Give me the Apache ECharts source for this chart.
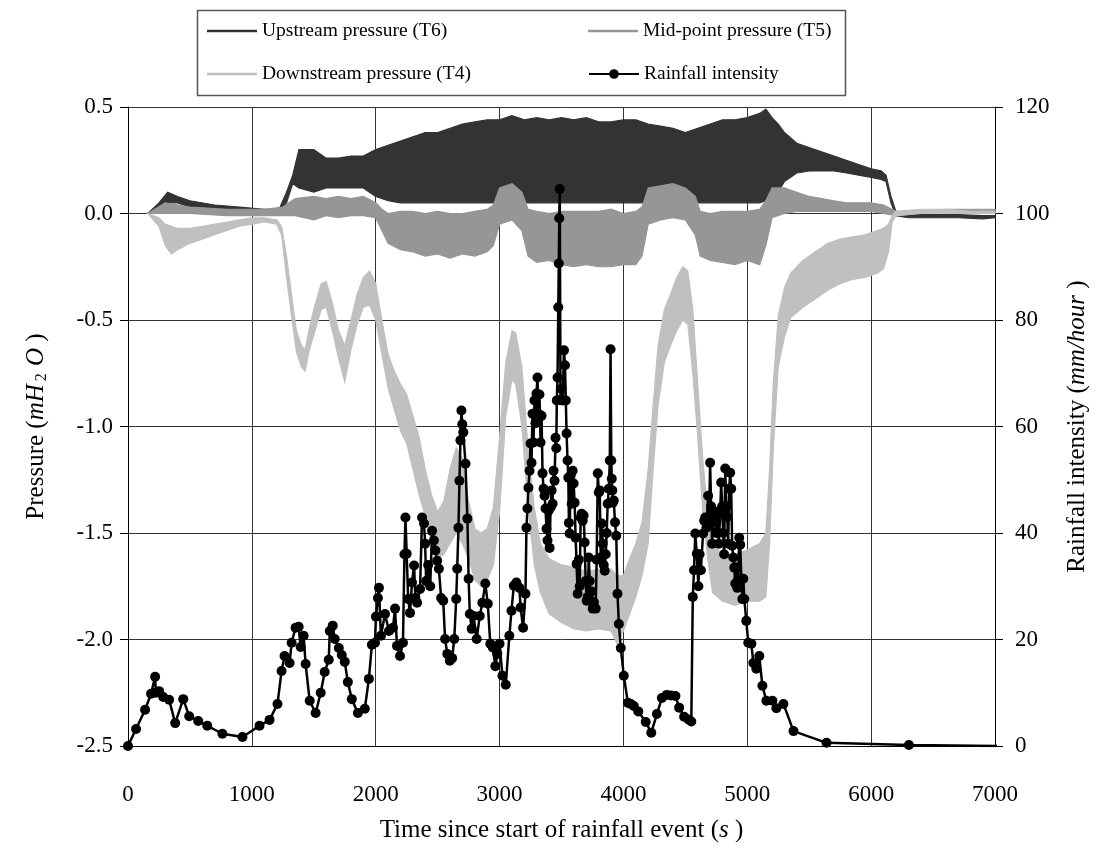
<!DOCTYPE html>
<html>
<head>
<meta charset="utf-8">
<script src="https://cdn.jsdelivr.net/npm/echarts@6/dist/echarts.min.js"></script>
<style>
html,body{margin:0;padding:0;background:#fff;}
#chart{width:1098px;height:849px;}
</style>
</head>
<body>
<div id="chart"></div>
<script>
// ---------- DATA ----------
// Upstream pressure (T6): envelope of the noisy signal (mH2O)
var t6Time  = [160, 250, 320, 400, 500, 700, 900, 1100, 1220, 1280, 1330, 1380, 1500, 1600, 1700, 1800, 1900, 2000, 2100, 2200, 2300, 2400, 2500, 2600, 2700, 2800, 2900, 3000, 3100, 3200, 3300, 3400, 3500, 3600, 3700, 3800, 3900, 4000, 4100, 4200, 4300, 4400, 4500, 4600, 4700, 4800, 4900, 5000, 5100, 5150, 5200, 5250, 5300, 5400, 5500, 5600, 5700, 5800, 5900, 6000, 6080, 6120, 6160, 6200, 6300, 6500, 6700, 6900, 7000];
var t6Upper = [0.00, 0.05, 0.10, 0.08, 0.06, 0.04, 0.03, 0.02, 0.02, 0.10, 0.18, 0.30, 0.30, 0.26, 0.26, 0.27, 0.27, 0.30, 0.32, 0.34, 0.36, 0.38, 0.38, 0.40, 0.42, 0.43, 0.44, 0.44, 0.46, 0.44, 0.45, 0.44, 0.45, 0.44, 0.45, 0.43, 0.43, 0.44, 0.44, 0.42, 0.41, 0.40, 0.38, 0.40, 0.42, 0.44, 0.44, 0.45, 0.47, 0.49, 0.45, 0.42, 0.38, 0.33, 0.31, 0.29, 0.27, 0.25, 0.23, 0.21, 0.20, 0.18, 0.08, 0.01, 0.00, 0.00, -0.005, -0.01, -0.01];
var t6Lower = [0.00, 0.00, 0.05, 0.05, 0.03, 0.02, 0.01, 0.00, -0.005, 0.05, 0.14, 0.12, 0.10, 0.12, 0.12, 0.12, 0.12, 0.08, 0.06, 0.05, 0.05, 0.05, 0.05, 0.05, 0.05, 0.05, 0.05, 0.05, 0.05, 0.05, 0.05, 0.05, 0.05, 0.05, 0.05, 0.05, 0.05, 0.05, 0.05, 0.05, 0.05, 0.05, 0.05, 0.05, 0.05, 0.05, 0.05, 0.05, 0.05, 0.06, 0.06, 0.10, 0.15, 0.19, 0.20, 0.20, 0.20, 0.19, 0.18, 0.17, 0.16, 0.15, 0.05, -0.01, -0.02, -0.02, -0.02, -0.025, -0.02];

// Mid-point pressure (T5)
var t5Time  = [160, 300, 500, 800, 1100, 1250, 1350, 1500, 1600, 1700, 1800, 1900, 2000, 2050, 2100, 2200, 2300, 2400, 2500, 2600, 2700, 2800, 2900, 2950, 3000, 3100, 3180, 3230, 3300, 3400, 3500, 3600, 3700, 3800, 3900, 4000, 4100, 4150, 4200, 4300, 4400, 4500, 4580, 4620, 4700, 4800, 4900, 5000, 5100, 5150, 5200, 5300, 5400, 5500, 5600, 5700, 5800, 5900, 6000, 6100, 6200, 6400, 6600, 6800, 7000];
var t5Upper = [0.00, 0.05, 0.03, 0.02, 0.02, 0.03, 0.07, 0.08, 0.07, 0.08, 0.07, 0.08, 0.05, 0.02, 0.00, 0.01, 0.01, 0.00, 0.01, 0.00, 0.00, 0.01, 0.02, 0.04, 0.12, 0.14, 0.10, 0.02, 0.01, 0.00, 0.01, 0.01, 0.01, 0.01, 0.02, 0.00, 0.01, 0.03, 0.12, 0.13, 0.14, 0.12, 0.08, 0.01, 0.00, 0.01, 0.01, 0.01, 0.02, 0.06, 0.12, 0.12, 0.10, 0.08, 0.07, 0.06, 0.05, 0.05, 0.05, 0.04, 0.01, 0.01, 0.02, 0.02, 0.02];
var t5Lower = [0.00, 0.00, 0.00, -0.01, -0.01, -0.01, -0.01, -0.03, -0.01, -0.02, -0.01, -0.01, -0.02, -0.08, -0.14, -0.17, -0.18, -0.20, -0.19, -0.21, -0.19, -0.20, -0.18, -0.15, -0.05, -0.03, -0.08, -0.20, -0.23, -0.22, -0.24, -0.25, -0.24, -0.25, -0.25, -0.24, -0.24, -0.20, -0.05, -0.03, -0.02, -0.03, -0.10, -0.20, -0.22, -0.23, -0.24, -0.22, -0.24, -0.15, -0.02, 0.00, 0.01, 0.01, 0.01, 0.01, 0.01, 0.01, 0.01, 0.00, -0.01, 0.00, 0.00, 0.00, 0.00];

// Downstream pressure (T4)
var t4Time  = [160, 250, 300, 350, 400, 500, 600, 700, 800, 900, 1000, 1100, 1200, 1240, 1280, 1320, 1360, 1400, 1430, 1460, 1500, 1560, 1600, 1650, 1700, 1750, 1800, 1850, 1900, 1950, 2000, 2050, 2100, 2150, 2200, 2250, 2300, 2350, 2400, 2450, 2500, 2550, 2600, 2650, 2700, 2750, 2800, 2850, 2900, 2950, 3000, 3050, 3100, 3130, 3180, 3230, 3280, 3330, 3400, 3500, 3600, 3700, 3800, 3900, 3950, 4000, 4050, 4100, 4150, 4200, 4240, 4280, 4330, 4380, 4430, 4480, 4520, 4560, 4600, 4640, 4680, 4720, 4800, 4900, 5000, 5100, 5150, 5180, 5210, 5250, 5300, 5350, 5450, 5550, 5650, 5750, 5850, 5950, 6050, 6100, 6140, 6170, 6200, 6400, 6600, 6800, 7000];
var t4Upper = [0.00, -0.02, -0.05, -0.06, -0.07, -0.07, -0.06, -0.05, -0.04, -0.03, -0.02, -0.02, -0.03, -0.06, -0.20, -0.38, -0.55, -0.62, -0.64, -0.55, -0.45, -0.33, -0.32, -0.42, -0.55, -0.62, -0.50, -0.38, -0.30, -0.27, -0.33, -0.50, -0.66, -0.74, -0.80, -0.85, -0.95, -1.05, -1.20, -1.32, -1.40, -1.35, -1.20, -1.10, -1.15, -1.35, -1.48, -1.50, -1.48, -1.38, -1.05, -0.70, -0.55, -0.56, -0.72, -1.10, -1.38, -1.55, -1.62, -1.65, -1.66, -1.68, -1.67, -1.67, -1.70, -1.70, -1.62, -1.55, -1.45, -1.20, -0.90, -0.62, -0.45, -0.38, -0.30, -0.25, -0.27, -0.45, -0.80, -1.15, -1.40, -1.55, -1.60, -1.60, -1.58, -1.55, -1.50, -1.20, -0.80, -0.48, -0.35, -0.28, -0.22, -0.18, -0.14, -0.12, -0.11, -0.10, -0.08, -0.07, -0.05, -0.01, 0.01, 0.02, 0.02, 0.01, 0.01];
var t4Lower = [0.00, -0.06, -0.15, -0.19, -0.17, -0.14, -0.12, -0.10, -0.08, -0.06, -0.05, -0.04, -0.05, -0.10, -0.30, -0.48, -0.65, -0.72, -0.74, -0.65, -0.57, -0.45, -0.44, -0.55, -0.68, -0.79, -0.64, -0.52, -0.44, -0.43, -0.50, -0.66, -0.82, -0.92, -1.02, -1.08, -1.20, -1.32, -1.42, -1.55, -1.62, -1.60, -1.55, -1.50, -1.55, -1.62, -1.72, -1.75, -1.72, -1.65, -1.40, -0.95, -0.78, -0.80, -1.00, -1.38, -1.65, -1.78, -1.88, -1.92, -1.95, -1.96, -1.95, -1.96, -2.02, -1.96, -1.88, -1.80, -1.70, -1.55, -1.20, -0.90, -0.70, -0.62, -0.55, -0.50, -0.52, -0.75, -1.05, -1.40, -1.62, -1.78, -1.82, -1.84, -1.82, -1.82, -1.80, -1.55, -1.10, -0.72, -0.58, -0.49, -0.44, -0.40, -0.36, -0.33, -0.31, -0.30, -0.28, -0.26, -0.18, -0.04, -0.01, 0.00, 0.00, 0.00, 0.00];

// Rainfall intensity (mm/hour)
var rainTime = [0, 65, 138, 186, 219, 225, 251, 284, 332, 381, 446, 494, 567, 640, 762, 924, 1062, 1143, 1207, 1240, 1264, 1305, 1321, 1353, 1378, 1394, 1418, 1434, 1467, 1515, 1556, 1588, 1621, 1629, 1653, 1669, 1702, 1726, 1750, 1775, 1807, 1856, 1912, 1945, 1969, 1994, 2002, 2018, 2026, 2042, 2075, 2107, 2139, 2156, 2172, 2196, 2220, 2232, 2240, 2250, 2262, 2277, 2293, 2310, 2320, 2334, 2358, 2374, 2390, 2399, 2407, 2423, 2440, 2455, 2470, 2482, 2496, 2510, 2528, 2545, 2560, 2578, 2598, 2617, 2634, 2650, 2658, 2668, 2676, 2684, 2692, 2699, 2707, 2725, 2740, 2750, 2760, 2775, 2790, 2815, 2840, 2861, 2885, 2905, 2925, 2945, 2966, 2982, 3000, 3023, 3050, 3079, 3096, 3115, 3136, 3160, 3170, 3190, 3209, 3217, 3225, 3233, 3242, 3250, 3258, 3266, 3274, 3282, 3290, 3298, 3306, 3314, 3322, 3331, 3339, 3347, 3355, 3363, 3371, 3379, 3387, 3396, 3404, 3412, 3420, 3428, 3436, 3444, 3452, 3458, 3462, 3468, 3474, 3478, 3482, 3486, 3492, 3500, 3510, 3520, 3528, 3535, 3541, 3549, 3555, 3560, 3566, 3574, 3582, 3590, 3598, 3606, 3614, 3622, 3630, 3640, 3647, 3655, 3663, 3671, 3679, 3687, 3695, 3703, 3712, 3720, 3728, 3736, 3744, 3752, 3762, 3776, 3784, 3793, 3801, 3809, 3817, 3825, 3833, 3841, 3849, 3857, 3865, 3873, 3882, 3890, 3896, 3902, 3906, 3910, 3914, 3922, 3932, 3942, 3952, 3963, 3979, 4003, 4036, 4060, 4084, 4120, 4180, 4225, 4270, 4310, 4350, 4385, 4420, 4450, 4490, 4525, 4548, 4560, 4570, 4580, 4592, 4605, 4615, 4625, 4643, 4652, 4660, 4670, 4684, 4692, 4700, 4708, 4716, 4725, 4733, 4741, 4750, 4760, 4770, 4781, 4789, 4797, 4805, 4813, 4822, 4830, 4838, 4846, 4854, 4862, 4870, 4878, 4887, 4895, 4903, 4911, 4919, 4927, 4935, 4943, 4952, 4960, 4968, 4976, 4992, 5008, 5033, 5049, 5073, 5097, 5122, 5154, 5203, 5235, 5292, 5373, 5640, 6305, 7100];
var rainValue = [0, 3.2, 6.8, 9.8, 13.0, 10.0, 10.3, 9.2, 8.7, 4.3, 8.8, 5.6, 4.7, 3.8, 2.3, 1.7, 3.8, 4.9, 7.9, 14.1, 16.9, 15.6, 19.4, 22.2, 22.4, 18.6, 20.7, 15.4, 8.5, 6.2, 10.0, 13.9, 16.2, 21.6, 22.6, 20.1, 18.4, 17.1, 15.8, 12.0, 8.8, 6.2, 7.0, 12.6, 19.0, 19.4, 24.3, 27.8, 29.7, 20.7, 24.8, 21.6, 22.2, 25.8, 18.8, 16.9, 19.4, 36.0, 42.9, 36.1, 27.6, 25.0, 30.7, 33.9, 27.8, 26.9, 29.5, 42.9, 41.8, 38.0, 31.0, 34.0, 30.0, 40.4, 38.6, 36.7, 34.8, 33.3, 27.8, 27.3, 20.1, 17.3, 16.0, 16.5, 20.1, 27.6, 33.3, 41.0, 49.8, 57.4, 63.0, 60.4, 58.9, 53.0, 42.7, 31.4, 24.8, 22.0, 24.4, 20.1, 24.4, 26.9, 30.5, 26.7, 19.2, 18.5, 15.0, 17.3, 19.2, 13.2, 11.5, 20.7, 25.4, 30.1, 30.7, 29.7, 26.0, 22.2, 28.6, 41.0, 44.6, 48.5, 51.7, 56.8, 53.2, 62.4, 57.0, 64.9, 60.6, 66.2, 69.2, 62.4, 66.0, 57.0, 62.0, 51.2, 48.3, 47.0, 44.6, 40.8, 38.6, 44.2, 37.2, 44.8, 48.0, 45.5, 51.7, 49.8, 57.9, 55.9, 64.9, 69.2, 82.4, 90.6, 99.1, 104.6, 65.0, 67.1, 64.9, 74.3, 71.5, 64.9, 58.7, 53.6, 50.4, 41.9, 39.9, 50.8, 45.5, 51.7, 49.3, 45.7, 39.1, 34.2, 28.6, 35.0, 30.0, 42.9, 43.6, 42.3, 43.3, 38.2, 31.0, 27.3, 28.0, 35.4, 31.0, 27.3, 29.0, 25.8, 27.0, 25.8, 35.0, 51.2, 47.6, 48.0, 35.4, 41.8, 38.0, 34.0, 32.9, 36.0, 40.0, 45.5, 48.3, 53.6, 74.5, 53.6, 50.2, 48.0, 45.7, 46.1, 42.0, 39.5, 28.6, 22.9, 18.4, 13.2, 8.1, 7.9, 7.5, 6.5, 4.5, 2.5, 6.0, 9.0, 9.6, 9.5, 9.4, 7.2, 5.5, 5.0, 4.6, 28.0, 33.0, 39.9, 36.1, 30.0, 36.0, 33.0, 39.9, 42.3, 42.9, 41.0, 47.0, 43.0, 53.2, 45.0, 38.0, 42.0, 44.0, 43.8, 40.0, 44.0, 38.0, 43.6, 49.5, 45.0, 40.0, 36.0, 52.1, 45.0, 43.0, 38.0, 48.3, 51.3, 48.3, 37.6, 35.4, 33.5, 30.5, 33.5, 29.7, 31.4, 39.1, 37.8, 31.4, 27.6, 31.4, 27.6, 23.5, 19.4, 19.2, 15.6, 14.5, 16.9, 11.3, 8.5, 8.5, 7.1, 7.9, 2.8, 0.6, 0.2, 0];

// Axis ticks
var xTicks = {min: 0, max: 7000, step: 1000};
var pressureTicks = {min: -2.5, max: 0.5, step: 0.5};
var rainTicks = {min: 0, max: 120, step: 20};

// Series names / colours
var names = ['Upstream pressure (T6)', 'Mid-point pressure (T5)', 'Downstream pressure (T4)', 'Rainfall intensity'];
var colors = ['#333333', '#969696', '#c0c0c0', '#000000'];

// ---------- CHART ----------
var FONT = 'Liberation Serif';
var chart = echarts.init(document.getElementById('chart'), null, {renderer: 'canvas'});

function band(T, Hi, Lo, color) {
  return function (params, api) {
    var pts = [];
    for (var i = 0; i < T.length; i++) pts.push(api.coord([T[i], Hi[i]]));
    for (var j = T.length - 1; j >= 0; j--) pts.push(api.coord([T[j], Lo[j]]));
    return {type: 'polygon', shape: {points: pts}, style: {fill: color, stroke: color, lineWidth: 1.2}};
  };
}

var TITLE = 25;
var rich = {
  n: {fontFamily: FONT, fontSize: TITLE, color: '#000'},
  i: {fontFamily: FONT, fontSize: TITLE, fontStyle: 'italic', color: '#000'},
  sub: {fontFamily: FONT, fontSize: 16, fontStyle: 'normal', color: '#000', padding: [11, 1, 0, 3]}
};

function legendAt(name, left, top, lineIcon) {
  var l = {
    data: [name], left: left, top: top, padding: 0,
    itemWidth: 50, itemHeight: lineIcon ? 2.5 : 12, selectedMode: false,
    textStyle: {fontFamily: FONT, fontSize: 19.5, color: '#000'}
  };
  if (lineIcon) l.icon = 'rect';
  return l;
}

var rainData = rainTime.map(function (t, i) { return [t, rainValue[i]]; });

var option = {
  animation: false,
  backgroundColor: '#fff',
  grid: {left: 128, right: 103, top: 107, bottom: 103},
  legend: [
    legendAt(names[0], 207, 21, true),
    legendAt(names[1], 588, 21, true),
    legendAt(names[2], 207, 64, true),
    legendAt(names[3], 588, 64, false)
  ],
  graphic: [{
    type: 'rect', silent: true, z: 100,
    shape: {x: 197.5, y: 10.5, width: 648, height: 85},
    style: {fill: 'none', stroke: '#555', lineWidth: 1.5}
  }],
  xAxis: {
    type: 'value', min: xTicks.min, max: xTicks.max, interval: xTicks.step,
    axisLine: {show: true, onZero: false, lineStyle: {color: '#000', width: 1}},
    axisTick: {show: false},
    axisLabel: {margin: 37, fontFamily: FONT, fontSize: 23, color: '#000', formatter: function (v) { return String(v); }},
    splitLine: {show: true, lineStyle: {color: '#333', width: 1}},
    name: '{n|Time since start of rainfall event (}{i|s}{n| )}',
    nameLocation: 'middle', nameGap: 72,
    nameTextStyle: {rich: rich}
  },
  yAxis: [{
    type: 'value', position: 'left', min: pressureTicks.min, max: pressureTicks.max, interval: pressureTicks.step,
    axisLine: {show: true, onZero: false, lineStyle: {color: '#000', width: 1}},
    axisTick: {show: true, length: 8, lineStyle: {color: '#000'}},
    axisLabel: {margin: 15, fontFamily: FONT, fontSize: 23, color: '#000', formatter: function (v) { return v.toFixed(1); }},
    splitLine: {show: true, lineStyle: {color: '#333', width: 1}},
    name: '{n|Pressure (}{i|mH}{sub|2}{i| O}{n| )}',
    nameLocation: 'middle', nameRotate: 90, nameGap: 78,
    nameTextStyle: {rich: rich}
  }, {
    type: 'value', position: 'right', min: rainTicks.min, max: rainTicks.max, interval: rainTicks.step,
    axisLine: {show: true, onZero: false, lineStyle: {color: '#000', width: 1}},
    axisTick: {show: true, length: 8, lineStyle: {color: '#000'}},
    axisLabel: {margin: 20, fontFamily: FONT, fontSize: 23, color: '#000'},
    splitLine: {show: false},
    name: '{n|Rainfall intensity (}{i|mm/hour}{n| )}',
    nameLocation: 'middle', nameRotate: 90, nameGap: 70,
    nameTextStyle: {rich: rich}
  }],
  series: [
    {name: names[0], type: 'line', data: [], symbol: 'none', lineStyle: {color: colors[0], width: 2.5}, itemStyle: {color: colors[0]}},
    {name: names[1], type: 'line', data: [], symbol: 'none', lineStyle: {color: colors[1], width: 2.5}, itemStyle: {color: colors[1]}},
    {name: names[2], type: 'line', data: [], symbol: 'none', lineStyle: {color: colors[2], width: 2.5}, itemStyle: {color: colors[2]}},
    {name: names[0], type: 'custom', renderItem: band(t6Time, t6Upper, t6Lower, colors[0]), data: [[t6Time[0], t6Upper[0]]], itemStyle: {color: colors[0]}, silent: true},
    {name: names[1], type: 'custom', renderItem: band(t5Time, t5Upper, t5Lower, colors[1]), data: [[t5Time[0], t5Upper[0]]], itemStyle: {color: colors[1]}, silent: true},
    {name: names[2], type: 'custom', renderItem: band(t4Time, t4Upper, t4Lower, colors[2]), data: [[t4Time[0], t4Upper[0]]], itemStyle: {color: colors[2]}, silent: true},
    {
      name: names[3], type: 'line', yAxisIndex: 1, data: rainData,
      symbol: 'circle', symbolSize: 10, showAllSymbol: true, clip: true,
      lineStyle: {color: colors[3], width: 2.5}, itemStyle: {color: colors[3]}
    }
  ]
};
chart.setOption(option);
</script>
</body>
</html>
